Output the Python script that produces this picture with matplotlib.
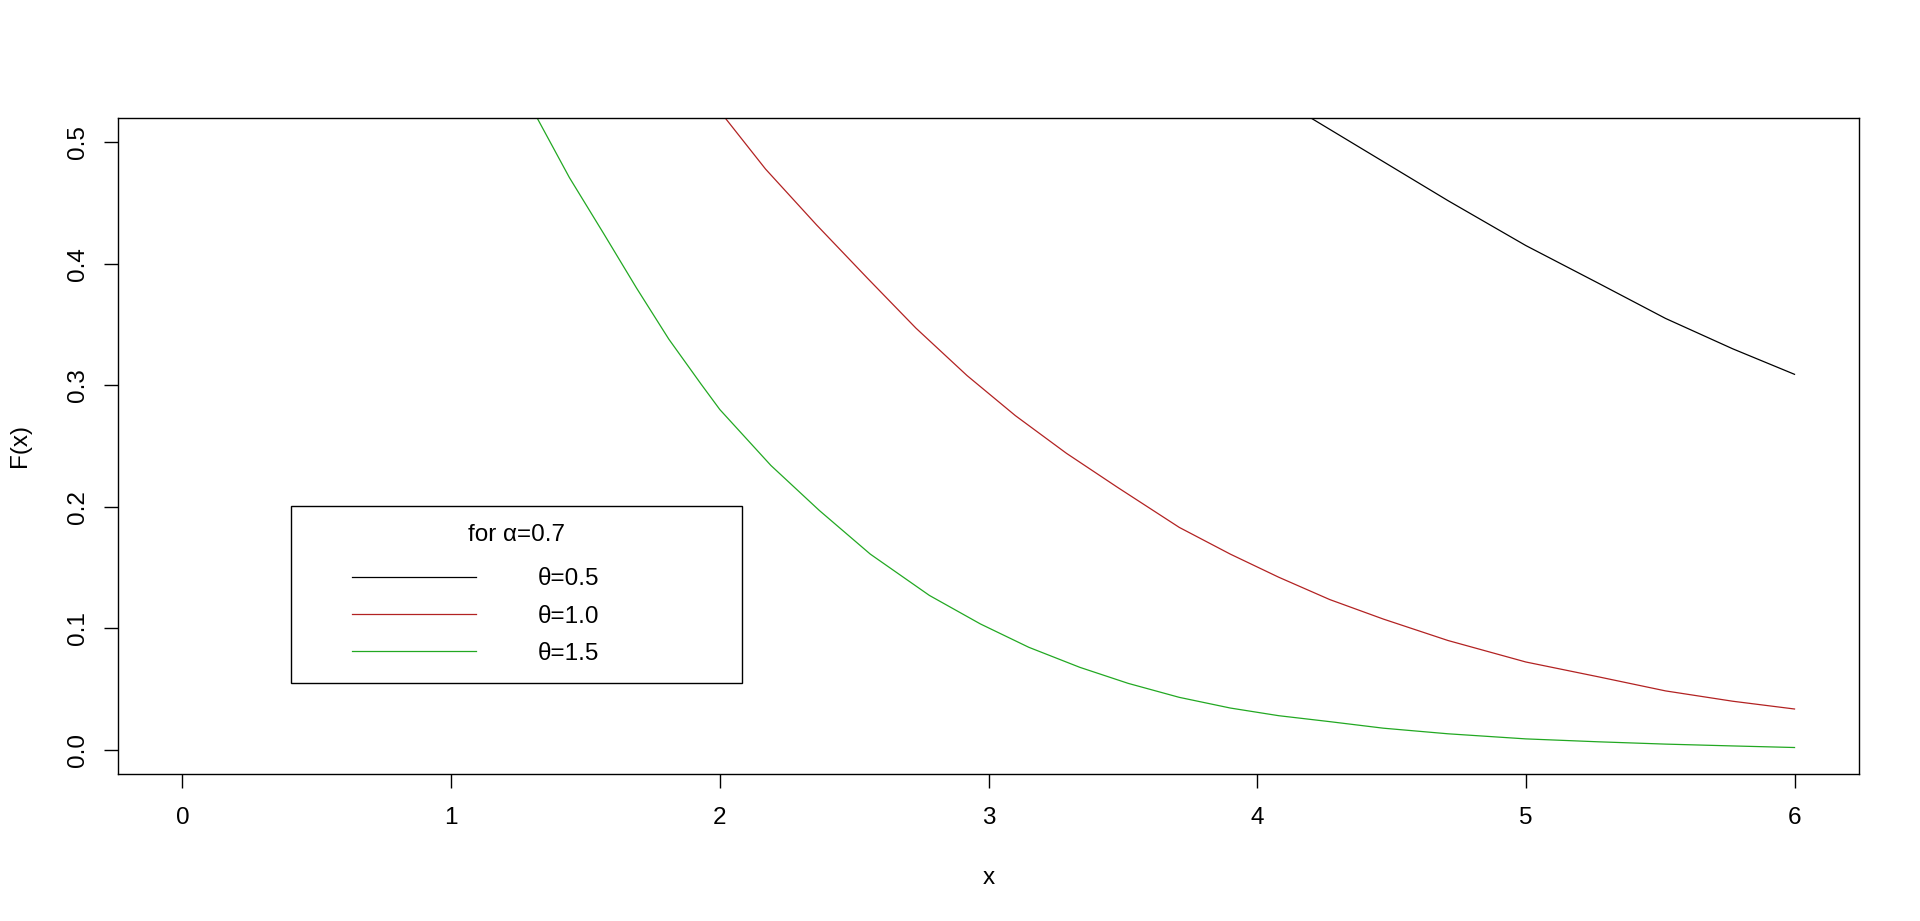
import numpy as np
import matplotlib
matplotlib.use('Agg')
import matplotlib.pyplot as plt
import matplotlib.ticker as mt
from matplotlib.legend_handler import HandlerLine2D

plt.rcParams['font.family'] = ['Liberation Sans', 'DejaVu Sans']

# values (curves are clipped by the top of the plot)
x_black = [4.0, 4.20, 4.47, 4.71, 5.0, 5.27, 5.52, 5.77, 6.0]
F_black = [0.546, 0.520, 0.484, 0.452, 0.415, 0.384, 0.355, 0.330, 0.309]

x_red = [2.0, 2.02, 2.17, 2.36, 2.55, 2.73, 2.92, 3.10, 3.29, 3.48, 3.71,
         3.90, 4.08, 4.27, 4.47, 4.71, 5.0, 5.27, 5.52, 5.77, 6.0]
F_red = [0.526, 0.520, 0.478, 0.432, 0.388, 0.347, 0.308, 0.275, 0.244, 0.216, 0.183,
         0.161, 0.142, 0.1236, 0.1075, 0.0899, 0.0722, 0.060, 0.0484, 0.0399, 0.0335]

x_green = [1.25, 1.32, 1.44, 1.57, 1.69, 1.81, 1.93, 2.0, 2.19, 2.37, 2.56, 2.78,
           2.97, 3.15, 3.34, 3.52, 3.71, 3.90, 4.08, 4.27, 4.47, 4.71, 5.0,
           5.27, 5.52, 5.77, 6.0]
F_green = [0.548, 0.520, 0.471, 0.424, 0.380, 0.338, 0.301, 0.280, 0.234, 0.197, 0.161, 0.127,
           0.1035, 0.0843, 0.0678, 0.0546, 0.0431, 0.0343, 0.0280, 0.0231, 0.0177, 0.0131, 0.0089,
           0.0065, 0.0046, 0.0031, 0.0018]

labels = ['θ=0.5', 'θ=1.0', 'θ=1.5']
colors = ['black', '#B22222', '#22A822']
title = 'for α=0.7'

fs = 17.5

fig = plt.figure(figsize=(19.2, 9.21), dpi=100)
ax = fig.add_axes([0.06146, 0.15961, 0.90677, 0.71227])

for xs, ys, c, lab in zip([x_black, x_red, x_green], [F_black, F_red, F_green], colors, labels):
    ax.plot(xs, ys, color=c, lw=0.9, label=lab)

ax.set_xlim(-0.24, 6.24)
ax.set_ylim(-0.02, 0.52)
ax.set_xticks(np.arange(0, 7, 1))
ax.set_yticks(np.arange(0, 0.51, 0.1))
ax.yaxis.set_major_formatter(mt.FormatStrFormatter('%.1f'))
ax.tick_params(direction='out', length=10, width=1, labelsize=fs)
ax.tick_params(axis='x', pad=14)
ax.tick_params(axis='y', pad=11, labelrotation=90)
for t in ax.get_yticklabels():
    t.set_va('center')
for s in ax.spines.values():
    s.set_linewidth(1)

ax.set_xlabel('x', fontsize=fs)
ax.xaxis.set_label_coords(0.5, -0.1585)
ax.xaxis.label.set_va('center')
ax.set_ylabel('F(x)', fontsize=fs)
ax.yaxis.set_label_coords(-0.0563, 0.5)
ax.yaxis.label.set_va('center')

fpx = fs * 100 / 72.0
bp = 0.75
xpad = (61 - bp * fpx) / fpx
leg = ax.legend(title=title, loc='upper left',
                bbox_to_anchor=(0.0994, 0.1296, 0.259, 0.279), mode='expand',
                borderaxespad=0, borderpad=bp, fontsize=fs, title_fontsize=fs,
                handlelength=xpad + 124 / fpx, handletextpad=62 / fpx,
                labelspacing=0.62, fancybox=False, framealpha=1,
                handler_map={matplotlib.lines.Line2D: HandlerLine2D(xpad=xpad)})
leg._legend_box.sep = 16  # more room under the title, as in the original
leg.get_frame().set_edgecolor('black')
leg.get_frame().set_linewidth(1)

fig.savefig('out.png', dpi=100)
